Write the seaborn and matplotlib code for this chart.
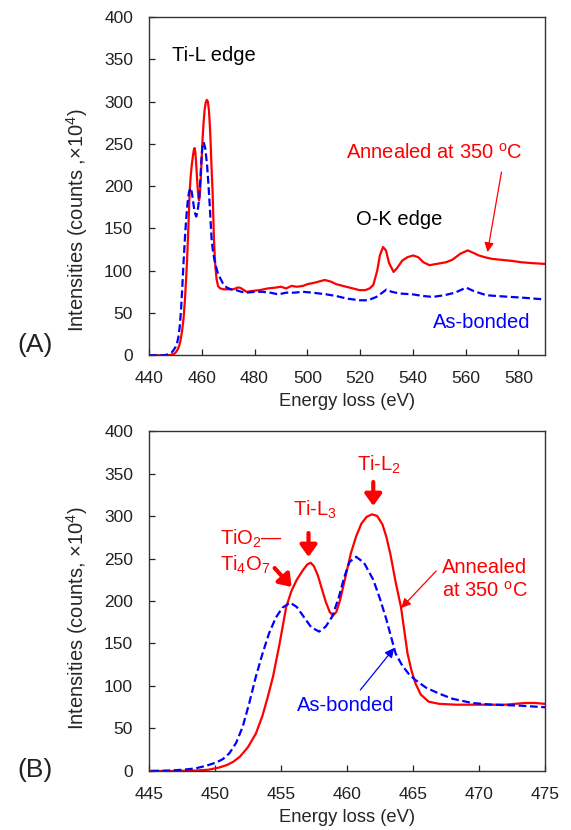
import numpy as np
import pandas as pd
import seaborn as sns
import matplotlib.pyplot as plt

# energy loss (eV) and intensity (counts x1e4)
ann_e = [440, 445, 447, 448.5, 449.5, 450.3, 450.9, 451.4, 451.9, 452.5, 453.1, 453.6, 454.0, 454.4,
         454.9, 455.4, 455.8, 456.2, 456.7, 457.0, 457.25, 457.5, 457.8, 458.05, 458.4, 458.7, 458.95,
         459.2, 459.5, 459.9, 460.3, 460.7, 461.1, 461.5, 461.9, 462.3, 462.7, 463.0, 463.3, 463.7,
         464.1, 464.4, 464.6, 464.9, 465.2, 465.6, 466.2, 467, 468.3, 470, 472, 473.5, 474.3, 475,
         477, 479, 482, 485, 488, 490, 492, 494, 496, 498.4, 500, 503, 506.6, 509, 511, 513.5, 516,
         519.8, 522, 523.6, 525, 526.5, 527.5, 528.7, 529.8, 531, 532.7, 534, 536, 538, 540.1, 542,
         544, 546.3, 549, 552.6, 555, 558, 560.8, 563, 565, 567.8, 570, 573, 577.8, 581, 585, 590]
ann_i = [0, 0, 0, 0.5, 1.5, 4, 7, 11, 17, 28, 44, 65, 87, 111,
         150, 193, 212, 225, 237, 243, 245, 241, 230, 217, 199, 187, 183,
         187, 202, 229, 256, 276, 291, 299, 302, 300, 290, 275, 255, 222,
         193, 160, 138, 118, 103, 90, 81.5, 79, 78, 78, 78, 80, 80, 79,
         75, 76, 77, 79, 80, 81, 79, 82, 81, 82, 84, 86, 89, 87, 84, 82, 80,
         77, 77, 79, 83, 100, 118, 128, 124, 109, 98.5, 103, 112, 116, 118, 116,
         110, 106.5, 108, 110, 113, 120, 124, 121, 118, 115.5, 114, 113, 111.5, 110, 109, 108]

asb_e = [440, 445, 446.5, 447.6, 448.5, 449.3, 450.1, 450.6, 451.1, 451.6, 452.1, 452.6, 453.1, 453.6,
         454.1, 454.6, 455.1, 455.7, 456.2, 456.7, 457.3, 457.9, 458.4, 458.9, 459.4, 459.8, 460.2,
         460.7, 461.3, 462.0, 462.5, 463.0, 463.4, 463.7, 464.2, 464.7, 465.2, 466.0, 467.0, 468.0,
         469.5, 471, 473, 475, 477, 480, 483, 486, 489, 492, 495, 498.4, 502, 507.2, 511, 515, 519.8,
         523, 526.2, 528, 530, 532, 535, 540, 544, 547.6, 552, 556, 560.2, 563, 567.8, 572, 577, 582, 590]
asb_i = [0, 0, 0.5, 1.5, 3, 6, 10, 14, 21, 33, 52, 80, 111, 138,
         162, 180, 192, 198, 193, 182, 169, 164, 170, 182, 205, 228, 246,
         252, 245, 225, 203, 178, 155, 138, 124, 114, 107, 98, 91, 85,
         80, 78, 77, 75, 74, 75, 75, 74, 72, 74, 74, 75, 74, 72, 70, 67, 65,
         65, 69, 73, 77.7, 75, 73, 72, 70, 69, 71, 74, 80, 76, 71, 70, 69, 68, 66]

yticks = [0, 50, 100, 150, 200, 250, 300, 350, 400]
xticks_a = [440, 460, 480, 500, 520, 540, 560, 580]
xticks_b = [445, 450, 455, 460, 465, 470, 475]

sns.set_theme(style='white')
plt.rcParams['font.family'] = ['Liberation Sans', 'DejaVu Sans']
plt.rcParams['mathtext.fontset'] = 'custom'
plt.rcParams['mathtext.rm'] = 'Liberation Sans'
plt.rcParams['mathtext.it'] = 'Liberation Sans'

RED = '#ff0000'
BLUE = '#0000ff'

fig = plt.figure(figsize=(5.71, 8.30), dpi=100)
axA = fig.add_axes([0.261, 0.572, 0.693, 0.4075])
axB = fig.add_axes([0.261, 0.0711, 0.693, 0.4096])


def draw(ax):
    sns.lineplot(x=ann_e, y=ann_i, color=RED, lw=1.6, ax=ax)
    sns.lineplot(x=asb_e, y=asb_i, color=BLUE, lw=1.6, ls='--', ax=ax)
    ax.lines[-1].set_dashes([3.5, 1.6])
    ax.set_ylim(0, 400)
    ax.set_yticks(yticks)
    ax.tick_params(direction='in', length=4, width=0.9, labelsize=12.5, colors='#222222',
                   left=True, bottom=True, pad=11.5)
    for s in ax.spines.values():
        s.set_color('#333333')
        s.set_linewidth(1.0)
    ax.set_xlabel('Energy loss (eV)', fontsize=13.2, labelpad=5)


draw(axA)
axA.set_xlim(440, 590)
axA.set_xticks(xticks_a)
axA.set_ylabel('Intensities (counts ,×10$^4$)', fontsize=14.5)
axA.yaxis.set_label_coords(-0.15, 0.40)

tf = dict(fontsize=14.5)
axA.text(464.6, 355, 'Ti-L edge', color='black', ha='center', va='center', **tf)
axA.text(535, 160, 'O-K edge', color='black', ha='center', va='center', **tf)
axA.text(548.2, 239, 'Annealed at 350 $^{\\rm o}$C', color=RED, ha='center', va='center', **tf)
axA.annotate('', xy=(568.3, 122), xytext=(573.6, 216.6),
             arrowprops=dict(arrowstyle='-|>', color=RED, lw=0.9, mutation_scale=14,
                             shrinkA=0, shrinkB=0))
axA.text(566, 39, 'As-bonded', color=BLUE, ha='center', va='center', **tf)

draw(axB)
axB.set_xlim(445, 475)
axB.set_xticks(xticks_b)
axB.set_ylabel('Intensities (counts, ×10$^4$)', fontsize=14.5)
axB.yaxis.set_label_coords(-0.15, 0.45)

axB.text(450.37, 258, 'TiO$_2$\u2014\nTi$_4$O$_7$', color=RED, ha='left', va='center',
         linespacing=1.25, **tf)
axB.annotate('', xy=(455.81, 216.5), xytext=(454.52, 238.8),
             arrowprops=dict(arrowstyle='-|>,head_width=0.5,head_length=0.7', color=RED, lw=3,
                             mutation_scale=10, shrinkA=0, shrinkB=0))
axB.text(457.55, 307, 'Ti-L$_3$', color=RED, ha='center', va='center', **tf)
axB.annotate('', xy=(457.09, 251.8), xytext=(457.09, 280),
             arrowprops=dict(arrowstyle='-|>,head_width=0.5,head_length=0.7', color=RED, lw=3,
                             mutation_scale=10, shrinkA=0, shrinkB=0))
axB.text(462.46, 360, 'Ti-L$_2$', color=RED, ha='center', va='center', **tf)
axB.annotate('', xy=(462.0, 311.8), xytext=(462.0, 340),
             arrowprops=dict(arrowstyle='-|>,head_width=0.5,head_length=0.7', color=RED, lw=3,
                             mutation_scale=10, shrinkA=0, shrinkB=0))
axB.text(467.22, 225.3, 'Annealed\nat 350 $^{\\rm o}$C', color=RED, ha='left', va='center',
         linespacing=1.2, **tf)
axB.annotate('', xy=(464.12, 191.8), xytext=(466.77, 235.3),
             arrowprops=dict(arrowstyle='-|>', color=RED, lw=0.9, mutation_scale=14,
                             shrinkA=0, shrinkB=0))
axB.text(459.9, 77.6, 'As-bonded', color=BLUE, ha='center', va='center', **tf)
axB.annotate('', xy=(463.59, 144.7), xytext=(461.02, 95.3),
             arrowprops=dict(arrowstyle='-|>', color=BLUE, lw=0.9, mutation_scale=14,
                             shrinkA=0, shrinkB=0))

fig.text(35 / 571, 1 - 345 / 830, '(A)', fontsize=19, ha='center', va='center', color='#222222')
fig.text(35 / 571, 1 - 770 / 830, '(B)', fontsize=19, ha='center', va='center', color='#222222')

fig.savefig('out.png', dpi=100)
